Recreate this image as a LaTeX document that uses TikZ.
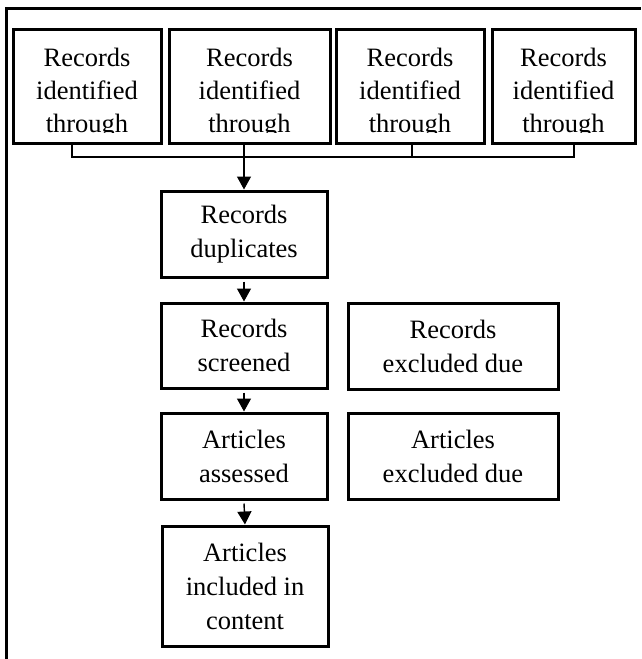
\documentclass[tikz,border=0pt]{standalone}
\usepackage{fontspec}
\setmainfont{Liberation Serif}
\usetikzlibrary{arrows.meta,calc}
\begin{document}
\begin{tikzpicture}[x=1pt,y=-1pt,
  txt/.style={font=\fontsize{26.5}{34}\selectfont},
  box/.style={draw,line width=3pt,txt,align=center,inner sep=0pt},
  topbox/.style={draw,line width=3pt,inner sep=0pt,minimum height=114pt,
    path picture={
      \clip ([yshift=11pt]path picture bounding box.south west) rectangle (path picture bounding box.north east);
      \node[txt,anchor=base,inner sep=0pt] at ([yshift=-37pt]path picture bounding box.north) {Records};
      \node[txt,anchor=base,inner sep=0pt] at ([yshift=-70pt]path picture bounding box.north) {identified};
      \node[txt,anchor=base,inner sep=0pt] at ([yshift=-103pt]path picture bounding box.north) {through};
    }},
  conn/.style={line width=2.6pt},
  arr/.style={line width=1.4pt,-{Triangle[width=14pt,length=13pt]}}]
\useasboundingbox (0,0) rectangle (641,659);
% outer frame
\draw[line width=3pt] (6.5,659) -- (6.5,8) -- (641,8);
% top boxes with clipped text
\node[topbox,minimum width=148pt] (b1) at (87,86) {};
\node[topbox,minimum width=161pt] (b2) at (249.5,86) {};
\node[topbox,minimum width=148pt] (b3) at (410,86) {};
\node[topbox,minimum width=143pt] (b4) at (563.5,86) {};
% main column
\node[box,minimum width=166pt,minimum height=86pt] (dup) at (244,234) {Records\\duplicates};
\node[box,minimum width=166pt,minimum height=85pt] (scr) at (244,345.5) {Records\\screened};
\node[box,minimum width=166pt,minimum height=86pt] (ass) at (244,456) {Articles\\assessed};
\node[box,minimum width=166pt,minimum height=120pt] (inc) at (245,586) {Articles\\included in\\content};
% right column
\node[box,minimum width=210pt,minimum height=86pt] (rex) at (453,346) {Records\\excluded due};
\node[box,minimum width=210pt,minimum height=86pt] (aex) at (453,456) {Articles\\excluded due};
% connectors
\coordinate (hl) at (0,157);
\draw[conn] ([xshift=-15pt]b1.south) |- ([xshift=10.5pt]b4.south |- hl) -- ([xshift=10.5pt]b4.south);
\draw[conn] ([xshift=2pt]b3.south) -- ([xshift=2pt]b3.south |- hl);
\draw[arr] (dup.north |- b2.south) -- (dup.north);
\draw[arr] ([yshift=-3pt]dup.south) -- (scr.north);
\draw[arr] ([yshift=-3pt]scr.south) -- (ass.north);
\draw[arr] ([yshift=-3pt]ass.south) -- (inc.north);
\end{tikzpicture}
\end{document}
